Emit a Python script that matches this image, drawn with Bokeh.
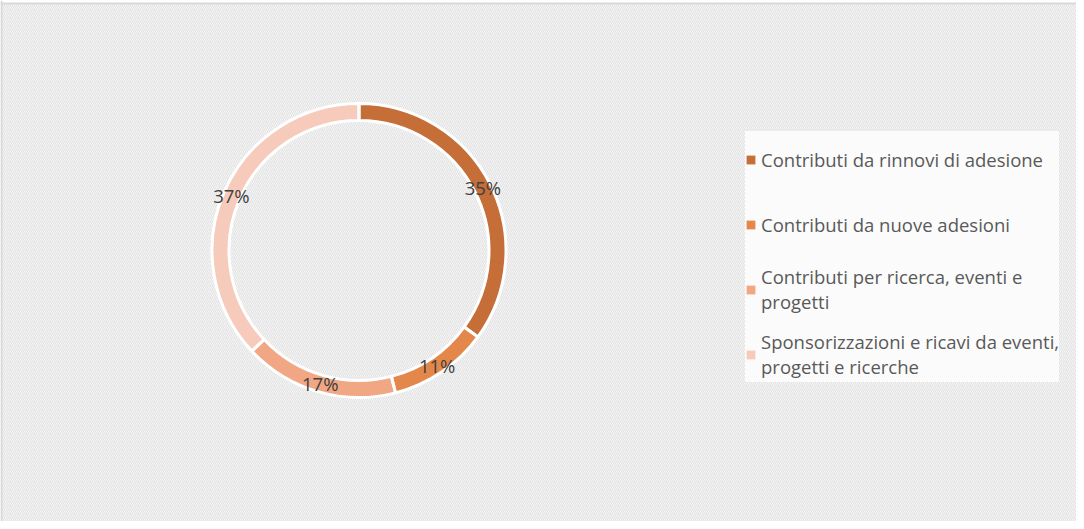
import math
from bokeh.plotting import figure
from bokeh.models import ColumnDataSource, Legend, LegendItem, Span
from bokeh.core.properties import value
from bokeh.embed import file_html
from bokeh.resources import INLINE

categories = [
    "Contributi da rinnovi di adesione",
    "Contributi da nuove adesioni",
    "Contributi per ricerca, eventi e\nprogetti",
    "Sponsorizzazioni e ricavi da eventi,\nprogetti e ricerche",
]
shares = [35, 11, 17, 37]
labels = ["35%", "11%", "17%", "37%"]
colors = ["#c56e38", "#e3884a", "#f1a783", "#f7cbbb"]

W, H = 1076, 521
cx, cy = 358.5, 271
r_out, r_in = 147, 130
r_lab = 139

total = float(sum(shares))
starts, ends, lx, ly = [], [], [], []
acc = 0.0
for s in shares:
    a = acc / total
    b = (acc + s) / total
    starts.append(math.pi / 2 - 2 * math.pi * b)
    ends.append(math.pi / 2 - 2 * math.pi * a)
    mid = math.pi / 2 - 2 * math.pi * (a + b) / 2
    lx.append(cx + r_lab * math.cos(mid))
    ly.append(cy + r_lab * math.sin(mid))
    acc += s

src = ColumnDataSource(dict(start=starts, end=ends, color=colors, cat=categories,
                            lx=lx, ly=ly, lab=labels))

p = figure(width=W, height=H, x_range=(0, W), y_range=(0, H),
           output_backend="svg", toolbar_location=None, min_border=0)
p.axis.visible = False
p.grid.visible = False
p.outline_line_color = None
p.background_fill_color = "white"
p.border_fill_color = "white"

p.quad(left=[0], right=[W], bottom=[0], top=[H - 3], fill_color="white", line_color=None,
       hatch_pattern="\\", hatch_color="#e3e3e3", hatch_scale=4, hatch_weight=1.3)
p.add_layout(Span(location=H - 3, dimension="width", line_color="#d9d9d9", line_width=2))
p.add_layout(Span(location=1, dimension="height", line_color="#d9d9d9", line_width=2))

r = p.annular_wedge(x=cx, y=cy, inner_radius=r_in, outer_radius=r_out,
                    start_angle="start", end_angle="end", fill_color="color",
                    line_color=None, source=src)
p.annular_wedge(x=cx, y=cy, inner_radius=r_in, outer_radius=r_out,
                start_angle="start", end_angle="end", fill_color=None,
                line_color="white", line_width=3, source=src)

p.text(x="lx", y="ly", text="lab", source=src, text_align="center",
       text_baseline="middle", text_font=value("Open Sans"), text_font_size="18.5px",
       text_color="#404040")

items = [LegendItem(label=categories[i], renderers=[r], index=i) for i in range(len(categories))]
legend = Legend(items=items, location=(745, 139), background_fill_color="white",
                background_fill_alpha=0.8, border_line_color=None,
                label_text_font="Open Sans", label_text_font_size="18.5px",
                label_text_color="#595959", label_text_line_height=1.8,
                glyph_width=11, glyph_height=11, label_standoff=5,
                label_height=56, spacing=9, padding=18, margin=0)
p.add_layout(legend)

open("out.html", "w").write(file_html(p, INLINE))
